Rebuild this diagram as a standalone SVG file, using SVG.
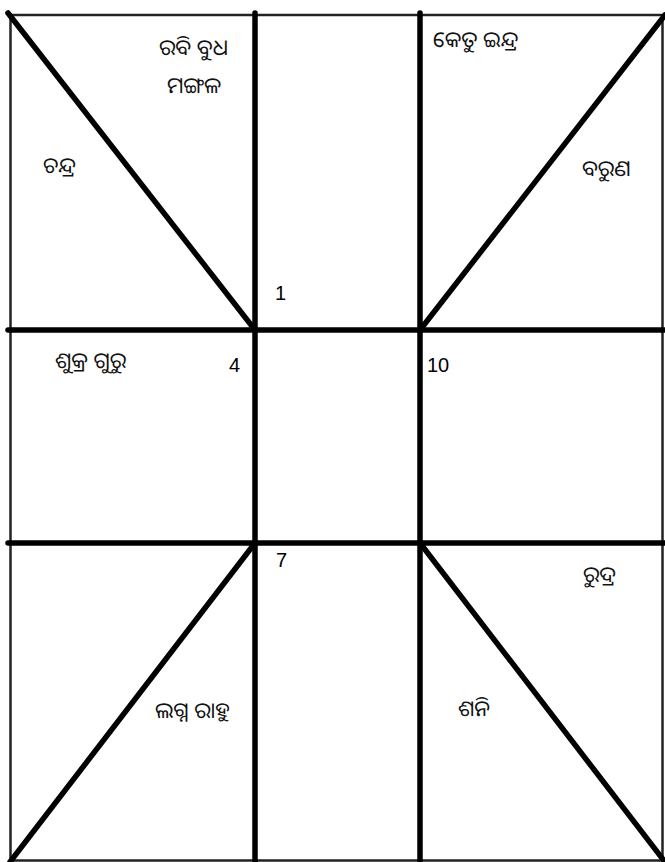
<svg xmlns="http://www.w3.org/2000/svg" width="665" height="862" viewBox="0 0 665 862">
<style>
.border{fill:none;stroke:#222;stroke-width:2.5}
.thick{stroke:#000;stroke-width:5.5;stroke-linecap:round}
.lbl{font-family:"Noto Sans Oriya","Noto Sans Odia","Lohit Odia","Noto Sans","DejaVu Sans",sans-serif;font-size:22px;fill:#111}
.num{font-family:"Liberation Sans",Arial,sans-serif;font-size:20px;fill:#000}
</style>
<rect width="665" height="862" fill="#fff"/>
<g id="connectors">
<rect class="border" x="10.5" y="15" width="652" height="845.5"/>
<line class="thick" x1="255" y1="13" x2="255" y2="868"/>
<line class="thick" x1="420" y1="13" x2="420" y2="868"/>
<line class="thick" x1="8" y1="330" x2="670" y2="330"/>
<line class="thick" x1="8" y1="543" x2="670" y2="543"/>
<line class="thick" x1="8" y1="13" x2="255" y2="330"/>
<line class="thick" x1="665" y1="15" x2="420" y2="330"/>
<line class="thick" x1="255" y1="543" x2="10" y2="862"/>
<line class="thick" x1="420" y1="543" x2="665" y2="862"/>
</g>
<g id="house1"><text class="lbl" x="159" y="55">ରବି ବୁଧ</text><text class="lbl" x="167" y="93">ମଙ୍ଗଳ</text><text class="num" x="275" y="300">1</text></g>
<g id="house2"><text class="lbl" x="43" y="173">ଚନ୍ଦ୍ର</text></g>
<g id="house4"><text class="lbl" x="55" y="368">ଶୁକ୍ର ଗୁରୁ</text><text class="num" x="229" y="372">4</text></g>
<g id="house7"><text class="num" x="276" y="567">7</text><text class="lbl" x="155" y="718">ଲଗ୍ନ ରାହୁ</text></g>
<g id="house8"><text class="lbl" x="458" y="716">ଶନି</text></g>
<g id="house9"><text class="lbl" x="583" y="582">ରୁଦ୍ର</text></g>
<g id="house10"><text class="num" x="427" y="372">10</text></g>
<g id="house11"><text class="lbl" x="582" y="176">ବରୁଣ</text></g>
<g id="house12"><text class="lbl" x="433" y="47">କେତୁ ଇନ୍ଦ୍ର</text></g>
</svg>
